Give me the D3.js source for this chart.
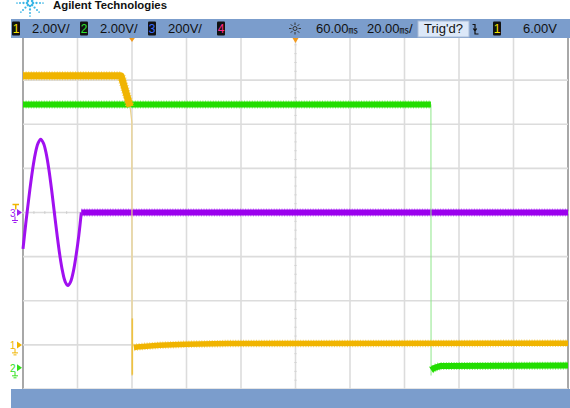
<!DOCTYPE html>
<html><head><meta charset="utf-8">
<script src="https://cdn.jsdelivr.net/npm/d3@7"></script>
<style>body{margin:0;background:#fff}svg{display:block}</style>
</head><body>
<script>
// ---------- data ----------
const brandText = "Agilent Technologies";
const headerChannels = ["1", "2", "3", "4"];
const headerScales = ["2.00V/", "2.00V/", "200V/", ""];
const timeDelay = "60.00";
const timeBase = "20.00";
const trigStatus = "Trig'd?";
const trigSource = "1";
const trigLevelText = "6.00V";
const voltsPerDiv = [2, 2, 200];          // ch1, ch2, ch3
const offsetDiv = [-3, -3.52, 0];         // ground position in divisions
const timeTicks = [-40, -20, 0, 20, 40, 60, 80, 100, 120, 140, 160]; // ms
const divTicks = [-4, -3, -2, -1, 0, 1, 2, 3, 4];
const trigLevel = 6.0;                    // V on ch1

// ch1 (V vs ms)
const ch1High = [[-40, 12.2], [-4.0, 12.2], [-0.7, 10.8]];
const ch1Edge = [[-0.7, 10.8], [-0.05, 10.1], [0, 4.5], [0.02, -1.4]];
const ch1Spike = [[0.12, 1.2], [0.12, -1.35]];
const ch1Low = [[0.7, -0.12], [3, -0.08], [10, -0.02], [20, 0.03], [35, 0.06], [160, 0.07]];
// ch2 (V vs ms)
const ch2High = [[-40, 11.94], [109.7, 11.94]];
const ch2Edge = [[109.7, 11.94], [109.75, -0.35]];
const ch2Low = [[109.8, -0.1], [111, 0.0], [113, 0.08], [160, 0.1]];
// ch3 (V vs ms)
const ch3Sine = [[-40, -165], [-39.5, -108], [-39.0, -52], [-38.5, 0], [-37.5, 102], [-36.5, 193],
  [-35.5, 266], [-34.5, 313], [-33.5, 332], [-32.5, 314], [-31.5, 268], [-30.5, 195], [-29.5, 103],
  [-28.5, 0], [-27.5, -101], [-26.5, -193], [-25.5, -266], [-24.5, -314], [-23.5, -331],
  [-22.5, -313], [-21.5, -266], [-20.5, -193], [-19.5, -102], [-18.6, 0]];
const ch3Flat = [[-18.6, 0], [160, 0]];

// ---------- drawing ----------
const W = 570, H = 408;
const svg = d3.select("body").append("svg").attr("width", W).attr("height", H);
const x = d3.scaleLinear().domain([-40, 160]).range([23, 568]);
const yDiv = d3.scaleLinear().domain([-4, 4]).range([389, 36]);
const yCh = i => v => yDiv(v / voltsPerDiv[i] + offsetDiv[i]);
const y1 = yCh(0), y2 = yCh(1), y3 = yCh(2);

svg.append("rect").attr("width", W).attr("height", H).attr("fill", "#fff");

// grid
const g = svg.append("g");
g.selectAll("line.v").data(timeTicks).join("line")
  .attr("x1", d => x(d)).attr("x2", d => x(d)).attr("y1", yDiv(4)).attr("y2", yDiv(-4))
  .attr("stroke", (d, i) => (i === 0 || i === timeTicks.length - 1) ? "#a8a8a8" : "#dcdcdc")
  .attr("stroke-width", (d, i) => (i === 0 || i === timeTicks.length - 1) ? 2 : 1.6);
g.selectAll("line.h").data(divTicks).join("line")
  .attr("x1", x(-40)).attr("x2", x(160)).attr("y1", d => yDiv(d)).attr("y2", d => yDiv(d))
  .attr("stroke", "#dcdcdc").attr("stroke-width", 1.6);
// minor ticks on center lines
const minorT = d3.range(-40, 160.01, 4);
g.selectAll("line.mt").data(minorT).join("line")
  .attr("x1", d => x(d)).attr("x2", d => x(d)).attr("y1", yDiv(0) - 1.2).attr("y2", yDiv(0) + 1.2)
  .attr("stroke", "#cfcfcf").attr("stroke-width", 1.2);
const minorD = d3.range(-4, 4.01, 0.2);
g.selectAll("line.md").data(minorD).join("line")
  .attr("y1", d => yDiv(d)).attr("y2", d => yDiv(d)).attr("x1", x(60) - 1.2).attr("x2", x(60) + 1.2)
  .attr("stroke", "#d4d4d4").attr("stroke-width", 1);

// traces
const tr = svg.append("g");
function band(data, yf, color, light, w, curve) {
  const line = d3.line().x(d => x(d[0])).y(d => yf(d[1])).curve(curve || d3.curveLinear);
  tr.append("path").attr("d", line(data)).attr("fill", "none").attr("stroke", light)
    .attr("stroke-width", w + 2).attr("stroke-dasharray", "1 1.6").attr("opacity", 0.8);
  tr.append("path").attr("d", line(data)).attr("fill", "none").attr("stroke", color)
    .attr("stroke-width", w).attr("stroke-linejoin", "round");
}
function thin(data, yf, color, w) {
  const line = d3.line().x(d => x(d[0])).y(d => yf(d[1]));
  tr.append("path").attr("d", line(data)).attr("fill", "none").attr("stroke", color).attr("stroke-width", w);
}
// ch3
band(ch3Flat, y3, "#9b00ee", "#b860f5", 6);
tr.append("path").attr("d", d3.line().x(d => x(d[0])).y(d => y3(d[1])).curve(d3.curveCatmullRom)(ch3Sine))
  .attr("fill", "none").attr("stroke", "#a010f0").attr("stroke-width", 3);
// ch2
thin(ch2Edge, y2, "#8ee68a", 1);
band(ch2High, y2, "#22dd00", "#6cef50", 6);
band(ch2Low, y2, "#22dd00", "#6cef50", 6);
// ch1
thin(ch1Edge, y1, "#ecd28a", 1.2);
thin(ch1Spike, y1, "#efc240", 1.6);
band(ch1High, y1, "#f0b400", "#f6cd50", 7);
band(ch1Low, y1, "#f0b400", "#f6cd50", 5.5);

// left channel markers
function marker(yv, label, color, ground) {
  const m = svg.append("g");
  m.append("text").attr("x", 10).attr("y", yv + 4).text(label)
    .attr("font-family", "Liberation Sans, Arial, sans-serif").attr("font-size", 10).attr("fill", color);
  m.append("path").attr("d", `M17,${yv - 3.5}L22,${yv}L17,${yv + 3.5}Z`).attr("fill", color);
  if (ground) {
    m.append("path").attr("d", `M15,${yv + 4}V${yv + 8}M12,${yv + 8}H18M13.5,${yv + 10}H16.5`)
      .attr("stroke", color).attr("stroke-width", 1).attr("fill", "none");
  }
}
marker(y3(0), "3", "#a020f0", true);
marker(y1(0), "1", "#f0b400", true);
marker(y2(0), "2", "#33e01a", true);
// trigger level marker
svg.append("path").attr("d", `M12.5,${y1(trigLevel) - 8}H19M15.75,${y1(trigLevel) - 8}V${y1(trigLevel) - 3}`)
  .attr("stroke", "#f0b400").attr("stroke-width", 1.5).attr("fill", "none");

// top orange markers
svg.append("path").attr("d", `M${x(0) - 3.5},37 L${x(0) + 3.5},37 L${x(0)},42 Z`).attr("fill", "#f39a1c");
svg.append("path").attr("d", `M${x(60) - 3},38 L${x(60) + 3},38 L${x(60)},43 Z`).attr("fill", "#f39a1c");

// header
svg.append("rect").attr("x", 0).attr("y", 0).attr("width", W).attr("height", 19).attr("fill", "#fff");
const logo = svg.append("g").attr("fill", "#3cb6e6");
const rays = [[-1, 0], [1, 0], [-0.7, 0.7], [0.7, 0.7], [0, 1], [-0.7, -0.7], [0.7, -0.7]];
rays.forEach(r => [3, 6.5, 10, 13].forEach((rad, k) =>
  logo.append("circle").attr("cx", 30 + r[0] * rad).attr("cy", 3 + r[1] * rad).attr("r", 1.3 - k * 0.15)));
svg.append("text").attr("x", 53).attr("y", 9).text(brandText)
  .attr("font-family", "Liberation Sans, Arial, sans-serif").attr("font-weight", "bold")
  .attr("font-size", 11.5).attr("textLength", 114).attr("lengthAdjust", "spacingAndGlyphs").attr("fill", "#111");

svg.append("rect").attr("x", 11).attr("y", 19).attr("width", W - 11).attr("height", 19).attr("fill", "#7b9dcc");
svg.append("rect").attr("x", 11).attr("y", 389).attr("width", W - 11).attr("height", 19).attr("fill", "#7b9dcc");

const font = "Liberation Sans, Arial, sans-serif";
const chColors = ["#f5e400", "#30e030", "#3a6cff", "#ff2a8a"];
const boxX = [12, 80, 148, 217];
function chBox(bx, label, color) {
  svg.append("rect").attr("x", bx).attr("y", 21.5).attr("width", 8).attr("height", 14).attr("fill", "#111").attr("rx", 1);
  svg.append("text").attr("x", bx + 4).attr("y", 33).attr("text-anchor", "middle").text(label)
    .attr("font-family", font).attr("font-size", 12).attr("fill", color);
}
headerChannels.forEach((c, i) => {
  chBox(boxX[i], c, chColors[i]);
  if (headerScales[i]) svg.append("text").attr("x", boxX[i] + 20).attr("y", 32.5).text(headerScales[i])
    .attr("font-family", font).attr("font-size", 13).attr("fill", "#111");
});
// sun icon
const sun = svg.append("g").attr("stroke", "#333").attr("stroke-width", 1);
sun.append("circle").attr("cx", 295).attr("cy", 28.5).attr("r", 2).attr("fill", "none");
d3.range(8).forEach(k => {
  const a = k * Math.PI / 4;
  sun.append("line").attr("x1", 295 + Math.cos(a) * 3.5).attr("y1", 28.5 + Math.sin(a) * 3.5)
    .attr("x2", 295 + Math.cos(a) * 6).attr("y2", 28.5 + Math.sin(a) * 6);
});
function timeText(tx, val, suffix) {
  const t = svg.append("text").attr("x", tx).attr("y", 32.5).attr("font-family", font).attr("font-size", 13).attr("fill", "#111");
  t.append("tspan").text(val);
  t.append("tspan").text("㎳").attr("font-size", 9.5).attr("font-family", "Noto Sans CJK JP, sans-serif");
  if (suffix) t.append("tspan").text(suffix);
}
timeText(316, timeDelay, "");
timeText(367, timeBase, "/");
svg.append("rect").attr("x", 418).attr("y", 21).attr("width", 51).attr("height", 16)
  .attr("fill", "#dce8f8").attr("stroke", "#a9bcd6").attr("stroke-width", 1);
svg.append("text").attr("x", 443.5).attr("y", 33).attr("text-anchor", "middle").text(trigStatus)
  .attr("font-family", font).attr("font-size", 13).attr("fill", "#111");
svg.append("path").attr("d", "M472.5,24.5H475V34H478.5M473.3,28.5L475,31L476.7,28.5")
  .attr("stroke", "#111").attr("stroke-width", 1.2).attr("fill", "none");
chBox(493, trigSource, chColors[0]);
svg.append("text").attr("x", 523).attr("y", 32.5).text(trigLevelText)
  .attr("font-family", font).attr("font-size", 13).attr("fill", "#111");
</script>
</body></html>
